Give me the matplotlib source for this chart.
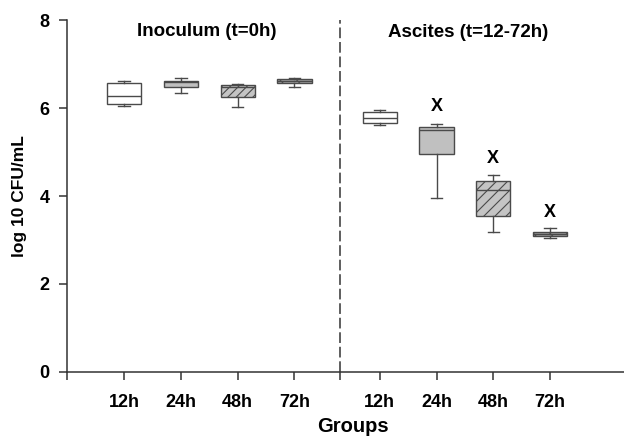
import matplotlib
matplotlib.use("Agg")
import matplotlib.pyplot as plt

plt.rcParams['font.family'] = ['Liberation Sans', 'DejaVu Sans']
plt.rcParams['font.weight'] = 'bold'
plt.rcParams['hatch.linewidth'] = 0.8

# group labels and box statistics (log10 CFU/mL)
labels = ['12h', '24h', '48h', '72h', '12h', '24h', '48h', '72h']
whislo = [6.05, 6.34, 6.04, 6.49, 5.61, 3.96, 3.18, 3.05]
q1 = [6.10, 6.48, 6.26, 6.57, 5.67, 4.97, 3.55, 3.08]
med = [6.29, 6.59, 6.48, 6.62, 5.77, 5.50, 4.15, 3.13]
q3 = [6.57, 6.63, 6.52, 6.66, 5.92, 5.57, 4.34, 3.19]
whishi = [6.62, 6.70, 6.55, 6.69, 5.95, 5.64, 4.49, 3.28]

# significance marks on the ascites groups
sig_idx = [5, 6, 7]
sig_y = [6.04, 4.86, 3.62]

panel_titles = ['Inoculum (t=0h)', 'Ascites (t=12-72h)']

positions = [1, 2, 3, 4, 5.5, 6.5, 7.5, 8.5]
faces = ['white', '#c0c0c0', '#c4c4c4', '#a8a8a8',
         'white', '#c0c0c0', '#c4c4c4', '#a0a0a0']
hatches = ['', '', '////', '\\\\', '', '', '///', '\\\\']
edge = '#4a4a4a'

stats = []
for i in range(len(labels)):
    stats.append(dict(label=labels[i], whislo=whislo[i], q1=q1[i], med=med[i],
                      q3=q3[i], whishi=whishi[i], fliers=[]))

fig = plt.figure(figsize=(6.24, 4.37), dpi=100)
ax = fig.add_axes([0.1077, 0.1494, 0.8923, 0.8037])

bp = ax.bxp(stats, positions=positions, widths=0.6, patch_artist=True,
            showfliers=False, capwidths=0.2,
            boxprops=dict(edgecolor=edge, linewidth=1.0),
            medianprops=dict(color=edge, linewidth=1.0),
            whiskerprops=dict(color=edge, linewidth=1.0),
            capprops=dict(color=edge, linewidth=1.0))
for box, fc, h in zip(bp['boxes'], faces, hatches):
    box.set_facecolor(fc)
    box.set_hatch(h)

for i, y in zip(sig_idx, sig_y):
    ax.text(positions[i], y, 'X', ha='center', va='center', fontsize=13,
            fontweight='bold')

ax.axvline(4.8, color='#333333', lw=1.1, dashes=(7, 2.5))

ax.text(2.45, 7.75, panel_titles[0], ha='center', va='center', fontsize=13.5,
        fontweight='bold')
ax.text(7.06, 7.72, panel_titles[1], ha='center', va='center', fontsize=13.5,
        fontweight='bold')

ax.set_xlim(0, 9.8)
ax.set_ylim(0, 8)
ax.set_yticks([0, 2, 4, 6, 8])
ax.set_xticks([0] + positions[:4] + [4.8] + positions[4:])
ax.set_xticklabels([''] + labels[:4] + [''] + labels[4:])
ax.tick_params(axis='x', length=6, width=1.1, color='#333333', pad=10,
               labelsize=13)
ax.tick_params(axis='y', length=5.5, width=1.1, color='#333333', pad=7,
               labelsize=13)
for lab in ax.get_xticklabels() + ax.get_yticklabels():
    lab.set_fontweight('bold')

for s in ['top', 'right']:
    ax.spines[s].set_visible(False)
for s in ['left', 'bottom']:
    ax.spines[s].set_color('#333333')
    ax.spines[s].set_linewidth(1.1)

ax.set_ylabel('log 10 CFU/mL', fontsize=12.5, fontweight='bold', labelpad=9)
fig.text(0.565, 0.003, 'Groups', ha='center', va='bottom', fontsize=14.5,
         fontweight='bold')

fig.savefig('out.png', dpi=100)
